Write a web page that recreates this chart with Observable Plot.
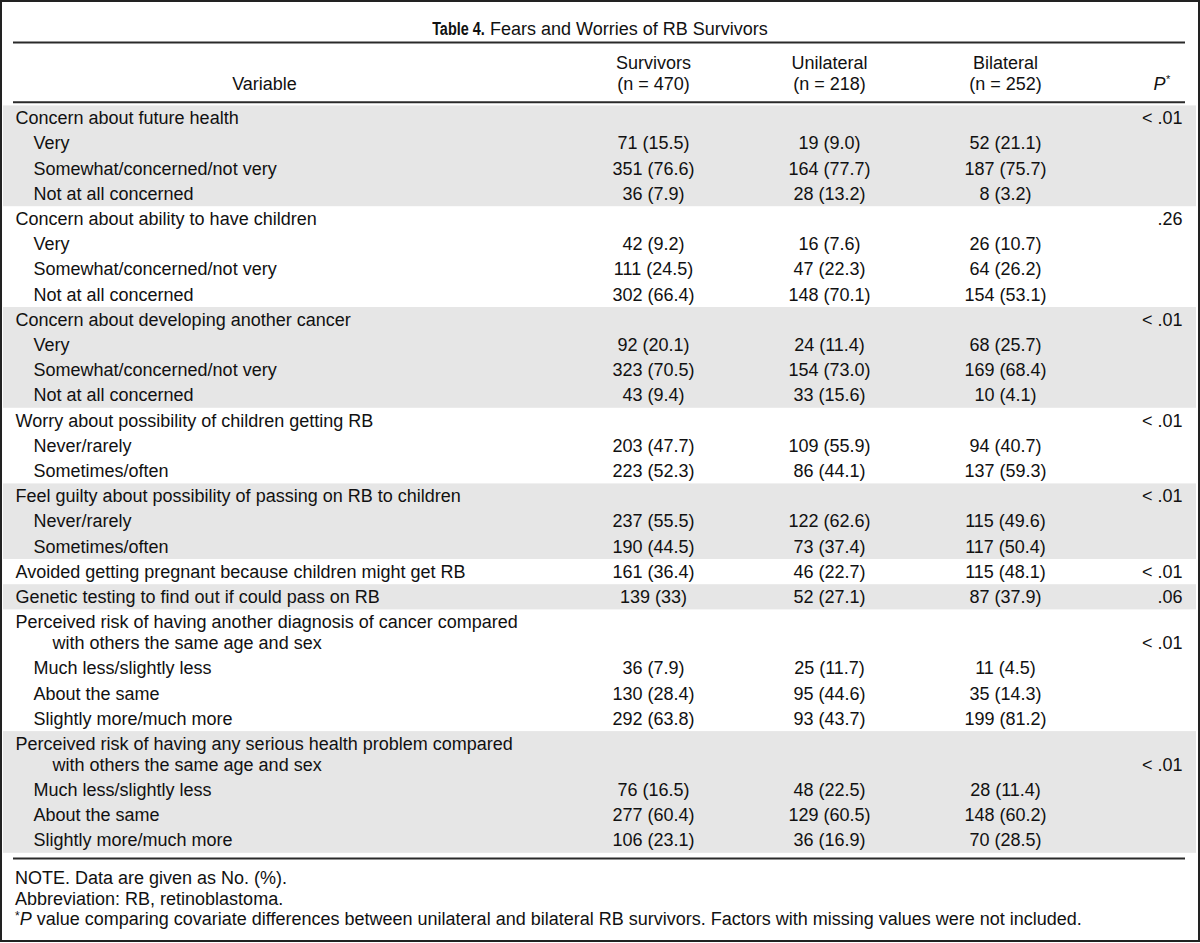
<!DOCTYPE html>
<html><head><meta charset="utf-8">
<script src="https://cdn.jsdelivr.net/npm/d3@7"></script>
<script src="https://cdn.jsdelivr.net/npm/@observablehq/plot@0.6"></script>
<style>
body{margin:0;background:#fff;}
#frame{position:relative;width:1200px;height:942px;box-sizing:border-box;border:2px solid #222;font-family:"Liberation Sans",Arial,Helvetica,sans-serif;color:#111;background:#fff;}
#title{position:absolute;left:0;top:16px;width:1196px;line-height:22px;font-size:18px;text-align:center;white-space:nowrap;}
#title b{display:inline-block;font-weight:bold;transform:scaleX(0.8);transform-origin:right center;margin-left:-13px;}
#chart{position:absolute;left:0;top:38px;}
#notes{position:absolute;left:13px;top:866px;font-size:18px;line-height:20.5px;white-space:nowrap;}
#notes .ast{position:relative;top:-5px;font-size:12px;}
</style></head>
<body>
<div id="frame">
  <div id="title"></div>
  <div id="chart"></div>
  <div id="notes"></div>
</div>
<script>
// ---------------- DATA ----------------
const titleBold = "Table 4.";
const titleText = "Fears and Worries of RB Survivors";
const columns = ["Survivors", "Unilateral", "Bilateral"];
const columnN = ["(n = 470)", "(n = 218)", "(n = 252)"];
const variableHeader = "Variable";
const pHeader = "P";

const rowLabels = [
  "Concern about future health", "Very", "Somewhat/concerned/not very", "Not at all concerned",
  "Concern about ability to have children", "Very", "Somewhat/concerned/not very", "Not at all concerned",
  "Concern about developing another cancer", "Very", "Somewhat/concerned/not very", "Not at all concerned",
  "Worry about possibility of children getting RB", "Never/rarely", "Sometimes/often",
  "Feel guilty about possibility of passing on RB to children", "Never/rarely", "Sometimes/often",
  "Avoided getting pregnant because children might get RB",
  "Genetic testing to find out if could pass on RB",
  "Perceived risk of having another diagnosis of cancer compared", "with others the same age and sex",
  "Much less/slightly less", "About the same", "Slightly more/much more",
  "Perceived risk of having any serious health problem compared", "with others the same age and sex",
  "Much less/slightly less", "About the same", "Slightly more/much more"
];
// 0 = variable, 1 = category, 2 = continuation of a wrapped variable name
const rowLevel = [0,1,1,1, 0,1,1,1, 0,1,1,1, 0,1,1, 0,1,1, 0, 0, 0,2,1,1,1, 0,2,1,1,1];

const survivors = [
  "", "71 (15.5)", "351 (76.6)", "36 (7.9)",
  "", "42 (9.2)", "111 (24.5)", "302 (66.4)",
  "", "92 (20.1)", "323 (70.5)", "43 (9.4)",
  "", "203 (47.7)", "223 (52.3)",
  "", "237 (55.5)", "190 (44.5)",
  "161 (36.4)",
  "139 (33)",
  "", "", "36 (7.9)", "130 (28.4)", "292 (63.8)",
  "", "", "76 (16.5)", "277 (60.4)", "106 (23.1)"
];
const unilateral = [
  "", "19 (9.0)", "164 (77.7)", "28 (13.2)",
  "", "16 (7.6)", "47 (22.3)", "148 (70.1)",
  "", "24 (11.4)", "154 (73.0)", "33 (15.6)",
  "", "109 (55.9)", "86 (44.1)",
  "", "122 (62.6)", "73 (37.4)",
  "46 (22.7)",
  "52 (27.1)",
  "", "", "25 (11.7)", "95 (44.6)", "93 (43.7)",
  "", "", "48 (22.5)", "129 (60.5)", "36 (16.9)"
];
const bilateral = [
  "", "52 (21.1)", "187 (75.7)", "8 (3.2)",
  "", "26 (10.7)", "64 (26.2)", "154 (53.1)",
  "", "68 (25.7)", "169 (68.4)", "10 (4.1)",
  "", "94 (40.7)", "137 (59.3)",
  "", "115 (49.6)", "117 (50.4)",
  "115 (48.1)",
  "87 (37.9)",
  "", "", "11 (4.5)", "35 (14.3)", "199 (81.2)",
  "", "", "28 (11.4)", "148 (60.2)", "70 (28.5)"
];
const pValues = [
  "< .01", "", "", "",
  ".26", "", "", "",
  "< .01", "", "", "",
  "< .01", "", "",
  "< .01", "", "",
  "< .01",
  ".06",
  "", "< .01", "", "", "",
  "", "< .01", "", "", ""
];
const notes = [
  "NOTE. Data are given as No. (%).",
  "Abbreviation: RB, retinoblastoma.",
  "P value comparing covariate differences between unilateral and bilateral RB survivors. Factors with missing values were not included."
];

// ---------------- LAYOUT ----------------
const W = 1196, H = 822;
const firstRowY = 78, rowStep = 25.2, wrapStep = 0.83;
const font = '"Liberation Sans", Arial, Helvetica, sans-serif';
const ink = "#111";

const slots = [];
let s = 0;
rowLevel.forEach((lv, i) => { if (i > 0) s += (lv === 2 ? wrapStep : 1); slots.push(s); });
const toSlot = px => (px - firstRowY) / rowStep;

const rows = rowLabels.map((label, i) => ({label, level: rowLevel[i], slot: slots[i], p: pValues[i]}));

const groupOf = [];
let g = -1;
rowLevel.forEach(lv => { if (lv === 0) g++; groupOf.push(g); });
const bands = [];
for (let k = 0; k <= g; k++) {
  if (k % 2 !== 0) continue;
  const idx = groupOf.map((gg, i) => gg === k ? i : -1).filter(i => i >= 0);
  bands.push({y1: slots[idx[0]] - 0.5, y2: slots[idx[idx.length - 1]] + 0.5});
}

const series = [survivors, unilateral, bilateral];
const cells = [];
series.forEach((vals, c) => vals.forEach((v, i) => { if (v) cells.push({col: columns[c], slot: slots[i], text: v}); }));

const header = columns.map((c, i) => ({col: c, n: columnN[i]}));
const head1 = toSlot(23), head2 = toSlot(44);
const ruleSlots = [toSlot(2), toSlot(61.7), toSlot(818)];

// ---------------- TITLE / NOTES ----------------
const t = document.getElementById("title");
const tb = document.createElement("b"); tb.textContent = titleBold; t.appendChild(tb);
t.appendChild(document.createTextNode(" " + titleText));

const nd = document.getElementById("notes");
notes.forEach((n, i) => {
  const d = document.createElement("div");
  if (i === 2) {
    const a = document.createElement("span"); a.className = "ast"; a.textContent = "*"; d.appendChild(a);
    const p = document.createElement("i"); p.textContent = n.slice(0, 1); d.appendChild(p);
    d.appendChild(document.createTextNode(n.slice(1)));
  } else d.textContent = n;
  nd.appendChild(d);
});

// ---------------- PLOT ----------------
const common = {fill: ink, fontSize: 18};
const chart = Plot.plot({
  width: W, height: H,
  marginLeft: 11, marginRight: 13, marginTop: 0, marginBottom: 0,
  x: {type: "point", domain: columns, range: [651, 1003], padding: 0, axis: null},
  y: {type: "linear", domain: [0, 1], range: [firstRowY, firstRowY + rowStep], axis: null},
  style: {fontFamily: font, fontSize: "18px", color: ink, background: "transparent", overflow: "visible"},
  marks: [
    Plot.rect(bands, {y1: "y1", y2: "y2", fill: "#e6e6e6", insetLeft: -10, insetRight: -11}),
    Plot.ruleY(ruleSlots, {stroke: "#2a2a2a", strokeWidth: 2}),
    Plot.text(header, {x: "col", y: () => head1, text: "col", ...common}),
    Plot.text(header, {x: "col", y: () => head2, text: "n", ...common}),
    Plot.text([variableHeader], {frameAnchor: "left", dx: 251, y: () => head2, text: d => d, textAnchor: "middle", ...common}),
    Plot.text([pHeader], {frameAnchor: "right", dx: -20, y: () => head2, text: d => d, textAnchor: "end", fontStyle: "italic", ...common}),
    Plot.text(["*"], {frameAnchor: "right", dx: -19.5, dy: -5, y: () => head2, text: d => d, textAnchor: "start", fill: ink, fontSize: 11}),
    Plot.text(rows.filter(r => r.level === 0), {frameAnchor: "left", dx: 2, y: "slot", text: "label", textAnchor: "start", ...common}),
    Plot.text(rows.filter(r => r.level === 1), {frameAnchor: "left", dx: 20, y: "slot", text: "label", textAnchor: "start", ...common}),
    Plot.text(rows.filter(r => r.level === 2), {frameAnchor: "left", dx: 39, y: "slot", text: "label", textAnchor: "start", ...common}),
    Plot.text(cells, {x: "col", y: "slot", text: "text", textAnchor: "middle", ...common}),
    Plot.text(rows.filter(r => r.p), {frameAnchor: "right", dx: -3, y: "slot", text: "p", textAnchor: "end", ...common})
  ]
});
document.getElementById("chart").appendChild(chart);
</script>
</body></html>
